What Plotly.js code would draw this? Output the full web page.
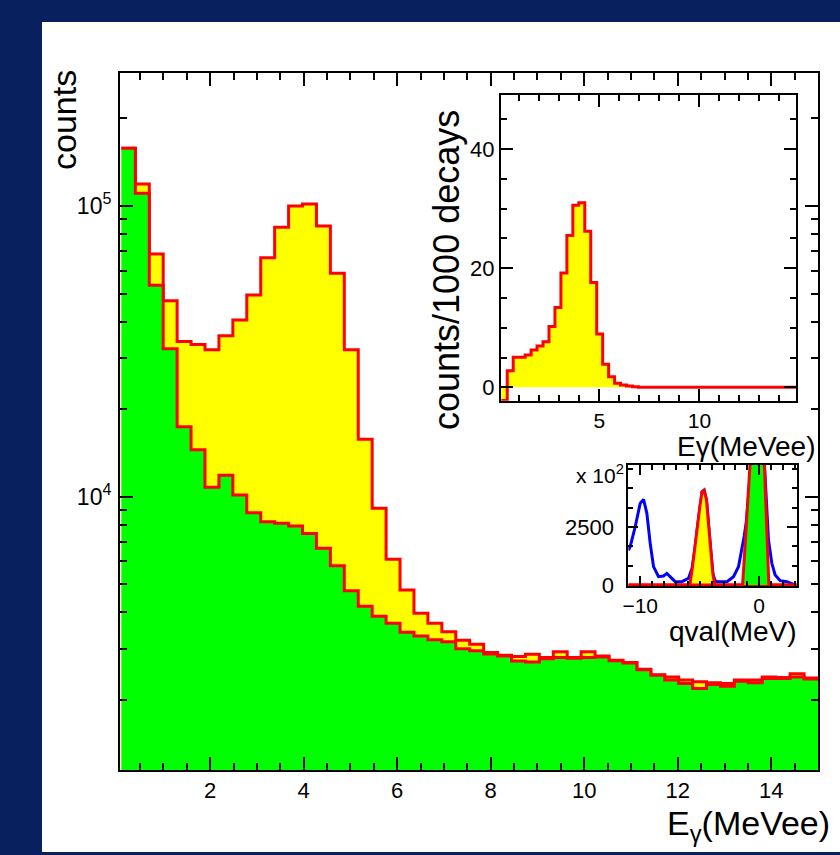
<!DOCTYPE html>
<html>
<head>
<meta charset="utf-8">
<script src="https://cdn.plot.ly/plotly-3.0.1.min.js"></script>
<style>html,body{margin:0;padding:0;background:#08215e;}#plot{width:840px;height:855px;}</style>
</head>
<body>
<div id="plot"></div>
<script>
// ---------- data ----------
const binStart = 0.1;
const binWidth = 0.298;

// main spectrum (counts per bin), all events (yellow) and selected component (green)
const totalCounts = [158000,119000,68400,47200,34200,33400,32000,35800,40500,49400,
  66400,84500,100000,101600,85300,58700,32000,15760,9120,6090,
  4780,3970,3670,3430,3210,3110,2910,2850,2820,2870,
  2800,2930,2800,2930,2830,2740,2690,2550,2440,2400,
  2340,2310,2290,2280,2340,2340,2400,2390,2460,2380];
const greenCounts = [158000,110600,53400,32300,17400,14500,10770,11850,10140,8810,
  8200,8100,7930,7480,6650,5790,4750,4200,3880,3670,
  3420,3320,3220,3170,3000,2950,2880,2830,2720,2700,
  2770,2800,2780,2800,2810,2730,2680,2540,2430,2340,
  2280,2190,2260,2230,2320,2290,2370,2370,2400,2360];

// inset 1: counts / 1000 decays
const insetRate = [-2.2,2.8,5.04,5.04,5.43,6.27,6.94,7.67,10.2,13.4,
  19.2,25.5,30.6,31.0,26.2,17.6,8.96,3.86,1.78,0.67,
  0.39,0.22,0.11,0,0,0,0,0,0,0,
  0,0,0,0,0,0,0,0,0,0,
  0,0,0,0,0,0,0,0,0,0];

// inset 2: qval spectrum (x 10^2)
const qvalX = [-11.0,-10.84,-10.42,-10.0,-9.72,-9.44,-9.16,-8.88,-8.46,-8.04,-7.76,-7.48,-7.06,-6.5,-5.94,
  -5.64,-5.41,-5.19,-4.99,-4.80,-4.63,-4.43,-4.24,-4.07,-3.90,-3.73,-3.56,-2.71,-2.16,-1.74,-1.46,-1.26,
  -1.09,-0.98,-0.84,-0.5,-0.2,0.2,0.45,0.56,0.66,0.78,1.06,1.34,1.76,2.32,3.02,3.15];
const qvalAll = [1500,1650,2510,3520,3690,3090,1795,790,360,390,500,360,145,145,290,
  720,1510,2510,3380,4020,4090,3660,2510,1510,520,210,145,145,360,790,1510,2110,
  2700,3700,5000,7500,8000,7500,5000,3700,2700,1940,935,430,185,145,0,0];
const peakAX = [-11.0,-5.83,-5.64,-5.41,-5.19,-4.99,-4.80,-4.63,-4.43,-4.24,-4.07,-3.90,-3.73,3.15];
const peakAY = [0,0,650,1510,2510,3380,4020,4090,3660,2510,1510,500,0,0];
const peakBX = [-11.0,-1.40,-1.26,-1.09,-0.98,-0.84,-0.5,-0.2,0.2,0.45,0.56,0.64,0.73,0.81,3.15];
const peakBY = [0,0,1080,2510,3660,4950,7500,8000,7500,4950,3660,2510,1080,0,0];

// ---------- helpers ----------
function edges(n){ const e=[]; for(let i=0;i<=n;i++) e.push(binStart+i*binWidth); return e; }
function stepY(v){ return v.concat([v[v.length-1]]); }
const E = edges(totalCounts.length);

const RED='#ff0000', YEL='#ffff00', GRN='#00ff00', BLU='#0000ff';
const FONT='Liberation Sans, Arial, sans-serif';

const traces = [
  {x:E, y:stepY(totalCounts), type:'scatter', mode:'lines', line:{shape:'hv', color:RED, width:3},
   fill:'tozeroy', fillcolor:YEL, xaxis:'x', yaxis:'y', hoverinfo:'skip'},
  {x:E, y:stepY(greenCounts), type:'scatter', mode:'lines', line:{shape:'hv', color:RED, width:3},
   fill:'tozeroy', fillcolor:GRN, xaxis:'x', yaxis:'y', hoverinfo:'skip'},
  {x:E, y:stepY(insetRate), type:'scatter', mode:'lines', line:{shape:'hv', color:RED, width:3},
   fill:'tozeroy', fillcolor:YEL, xaxis:'x2', yaxis:'y2', hoverinfo:'skip'},
  {x:qvalX, y:qvalAll, type:'scatter', mode:'lines', line:{color:BLU, width:3},
   xaxis:'x3', yaxis:'y3', hoverinfo:'skip'},
  {x:peakAX, y:peakAY, type:'scatter', mode:'lines', line:{color:RED, width:3},
   fill:'tozeroy', fillcolor:YEL, xaxis:'x3', yaxis:'y3', hoverinfo:'skip'},
  {x:peakBX, y:peakBY, type:'scatter', mode:'lines', line:{color:RED, width:3},
   fill:'tozeroy', fillcolor:GRN, xaxis:'x3', yaxis:'y3', hoverinfo:'skip'}
];

const minorLog=[]; for(const p of [1000,10000,100000]) for(let d=2;d<=9;d++) minorLog.push(d*p);

function ax(extra){
  return Object.assign({showline:true, linecolor:'#000', linewidth:2, mirror:'allticks',
    ticks:'inside', tickcolor:'#000', tickwidth:2, showgrid:false, zeroline:false,
    tickfont:{family:FONT, size:22, color:'#000'}}, extra);
}

const W=840, H=855;
const px = v => v/W, py = v => 1 - v/H;

const layout = {
  width:W, height:H, margin:{l:0,r:0,t:0,b:0},
  paper_bgcolor:'#08215e', plot_bgcolor:'#ffffff', showlegend:false,
  shapes:[{type:'rect', xref:'paper', yref:'paper', x0:px(42), x1:1.05, y0:py(852), y1:py(22),
    fillcolor:'#ffffff', line:{width:0}, layer:'below'}],
  xaxis: ax({domain:[px(120), px(818)], range:[0.07,15], anchor:'y', tick0:0, dtick:2, ticklen:13,
    minor:{ticks:'inside', dtick:0.5, tick0:0, ticklen:7, tickwidth:2, tickcolor:'#000'}}),
  yaxis: ax({domain:[py(770), py(73)], type:'log', range:[3.06,5.4575], anchor:'x',
    tickmode:'array', tickvals:[10000,100000], ticktext:['10<sup>4</sup>','10<sup>5</sup>'], ticklen:13,
    tickfont:{family:FONT, size:23, color:'#000'}, ticklabelstandoff:2,
    minor:{ticks:'inside', tickmode:'array', tickvals:minorLog, ticklen:7, tickwidth:2, tickcolor:'#000'}}),
  xaxis2: ax({domain:[px(501), px(796)], range:[0.085,14.83], anchor:'y2', tick0:0, dtick:5, ticklen:12,
    ticklabelstandoff:0, tickfont:{family:FONT, size:21, color:'#000'},
    minor:{ticks:'inside', dtick:1, tick0:0, ticklen:6, tickwidth:2, tickcolor:'#000'}}),
  yaxis2: ax({domain:[py(400.7), py(95)], range:[-2.25,49.1], anchor:'x2', tick0:0, dtick:20, ticklen:12,
    minor:{ticks:'inside', dtick:5, tick0:0, ticklen:6, tickwidth:2, tickcolor:'#000'}}),
  xaxis3: ax({domain:[px(628.3), px(796.7)], range:[-11,3.15], anchor:'y3', tick0:0, dtick:10, ticklen:10,
    tickfont:{family:FONT, size:21, color:'#000'}, ticklabelstandoff:0,
    minor:{ticks:'inside', dtick:1, tick0:0, ticklen:5, tickwidth:2, tickcolor:'#000'}}),
  yaxis3: ax({domain:[py(586), py(465)], range:[-43,5172], anchor:'x3', tickmode:'array', tickvals:[0,2500],
    ticktext:['0','2500'], ticklen:10,
    tickfont:{family:FONT, size:22, color:'#000'}, ticklabelstandoff:8,
    minor:{ticks:'inside', tickmode:'linear', dtick:2500/3, tick0:0, ticklen:5, tickwidth:2, tickcolor:'#000'}}),
  annotations:[
    {text:'counts', xref:'paper', yref:'paper', x:px(64), y:py(120), textangle:-90,
     showarrow:false, xanchor:'center', yanchor:'middle', font:{family:FONT, size:34, color:'#000'}},
    {text:'counts/1000 decays', xref:'paper', yref:'paper', x:px(446), y:py(270), textangle:-90,
     showarrow:false, xanchor:'center', yanchor:'middle', font:{family:FONT, size:36, color:'#000'}},
    {text:'Eγ(MeVee)', xref:'paper', yref:'paper', x:px(818), y:py(447),
     showarrow:false, xanchor:'right', yanchor:'middle', font:{family:FONT, size:28, color:'#000'}},
    {text:'x 10<sup>2</sup>', xref:'paper', yref:'paper', x:px(626), y:py(474),
     showarrow:false, xanchor:'right', yanchor:'middle', font:{family:FONT, size:21, color:'#000'}},
    {text:'qval(MeV)', xref:'paper', yref:'paper', x:px(799), y:py(631),
     showarrow:false, xanchor:'right', yanchor:'middle', font:{family:FONT, size:28, color:'#000'}},
    {text:'E<sub>γ</sub>(MeVee)', xref:'paper', yref:'paper', x:px(665), y:py(825),
     showarrow:false, xanchor:'left', yanchor:'middle', font:{family:FONT, size:34, color:'#000'}}
  ]
};

Plotly.newPlot('plot', traces, layout, {staticPlot:true, displayModeBar:false});
</script>
</body>
</html>
